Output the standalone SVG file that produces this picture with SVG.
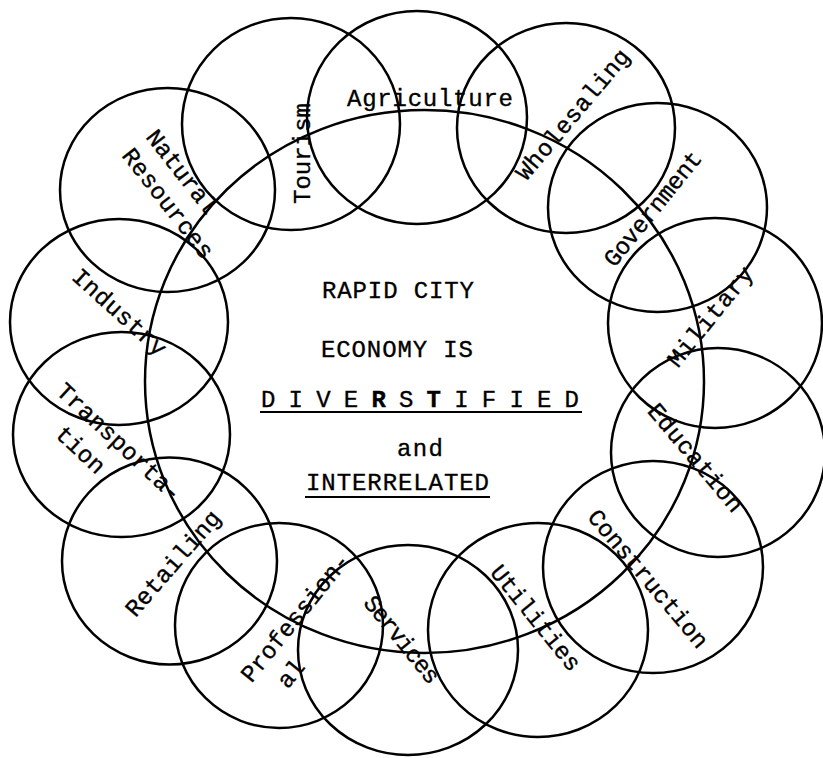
<svg xmlns="http://www.w3.org/2000/svg" width="823" height="758" viewBox="0 0 823 758">
<style>
.c{fill:none;stroke:#000;stroke-width:2.5}
.t{font-family:"Liberation Mono","DejaVu Sans Mono",monospace;font-size:24px;fill:#000;stroke:#000;stroke-width:0.35}
.u{stroke:#000;stroke-width:2}
</style>
<rect width="823" height="758" fill="#fff"/>
<g id="connectors"></g>
<g id="center">
<ellipse class="c" cx="424.5" cy="381.5" rx="279.5" ry="271.5"/>
<text class="t" x="322" y="298" textLength="152" lengthAdjust="spacing">RAPID CITY</text>
<text class="t" x="321" y="357" textLength="152" lengthAdjust="spacing">ECONOMY IS</text>
<text class="t" x="261" y="407" textLength="318" lengthAdjust="spacing">D I V E <tspan font-weight="bold">R</tspan> S <tspan font-weight="bold">T</tspan> I F I E D</text>
<line class="u" x1="260" y1="412" x2="582" y2="412"/>
<text class="t" x="397" y="456" textLength="46" lengthAdjust="spacing">and</text>
<text class="t" x="306" y="490" textLength="183" lengthAdjust="spacing">INTERRELATED</text>
<line class="u" x1="305" y1="497" x2="490" y2="497"/>
</g>
<g id="tourism">
<ellipse class="c" cx="291" cy="124" rx="109" ry="106"/>
<text class="t" transform="translate(310.4,204) rotate(-90)" textLength="101" lengthAdjust="spacing">Tourism</text>
</g>
<g id="agriculture">
<ellipse class="c" cx="417" cy="117.5" rx="110" ry="106.5"/>
<text class="t" x="347" y="106" textLength="166" lengthAdjust="spacing">Agriculture</text>
</g>
<g id="wholesaling">
<ellipse class="c" cx="566" cy="128" rx="109" ry="105"/>
<text class="t" transform="translate(526.3,181.8) rotate(-50)" textLength="163" lengthAdjust="spacing">Wholesaling</text>
</g>
<g id="government">
<ellipse class="c" cx="657.5" cy="207.5" rx="109.5" ry="104.5"/>
<text class="t" transform="translate(614.4,268.3) rotate(-51)" textLength="141" lengthAdjust="spacing">Government</text>
</g>
<g id="military">
<ellipse class="c" cx="715" cy="323" rx="107" ry="105"/>
<text class="t" transform="translate(677.9,368.8) rotate(-51)" textLength="122" lengthAdjust="spacing">Military</text>
</g>
<g id="education">
<ellipse class="c" cx="718" cy="452.5" rx="107" ry="104.5"/>
<text class="t" transform="translate(646.6,411.4) rotate(50)" textLength="134" lengthAdjust="spacing">Education</text>
</g>
<g id="construction">
<ellipse class="c" cx="653" cy="567" rx="110" ry="106"/>
<text class="t" transform="translate(586.6,517.4) rotate(50)" textLength="173" lengthAdjust="spacing">Construction</text>
</g>
<g id="utilities">
<ellipse class="c" cx="538" cy="630" rx="110" ry="107"/>
<text class="t" transform="translate(489.2,572.7) rotate(51)" textLength="129" lengthAdjust="spacing">Utilities</text>
</g>
<g id="services">
<ellipse class="c" cx="408" cy="650" rx="110" ry="105"/>
<text class="t" transform="translate(362.5,603.2) rotate(51)" textLength="106" lengthAdjust="spacing">Services</text>
</g>
<g id="professional">
<ellipse class="c" cx="279" cy="625.5" rx="104" ry="102.5"/>
<text class="t" transform="translate(251.4,683.8) rotate(-51)" textLength="158" lengthAdjust="spacing">Profession-</text>
<text class="t" transform="translate(287.7,689.8) rotate(-51)" textLength="29" lengthAdjust="spacing">al</text>
</g>
<g id="retailing">
<ellipse class="c" cx="169.5" cy="561" rx="107.5" ry="103.5"/>
<text class="t" transform="translate(135.4,618.3) rotate(-49)" textLength="132" lengthAdjust="spacing">Retailing</text>
</g>
<g id="transportation">
<ellipse class="c" cx="121.5" cy="434.5" rx="108.5" ry="102.5"/>
<text class="t" transform="translate(55.1,392.7) rotate(43)" textLength="161" lengthAdjust="spacing">Transporta-</text>
<text class="t" transform="translate(54.1,435.7) rotate(43)" textLength="58" lengthAdjust="spacing">tion</text>
</g>
<g id="industry">
<ellipse class="c" cx="119" cy="322" rx="109" ry="103"/>
<text class="t" transform="translate(70.6,278.4) rotate(42)" textLength="118" lengthAdjust="spacing">Industry</text>
</g>
<g id="natural-resources">
<ellipse class="c" cx="167.5" cy="190" rx="107.5" ry="102"/>
<text class="t" transform="translate(145,137.3) rotate(52)" textLength="100" lengthAdjust="spacing">Natural</text>
<text class="t" transform="translate(120.9,155.7) rotate(52)" textLength="133" lengthAdjust="spacing">Resources</text>
</g>
</svg>
